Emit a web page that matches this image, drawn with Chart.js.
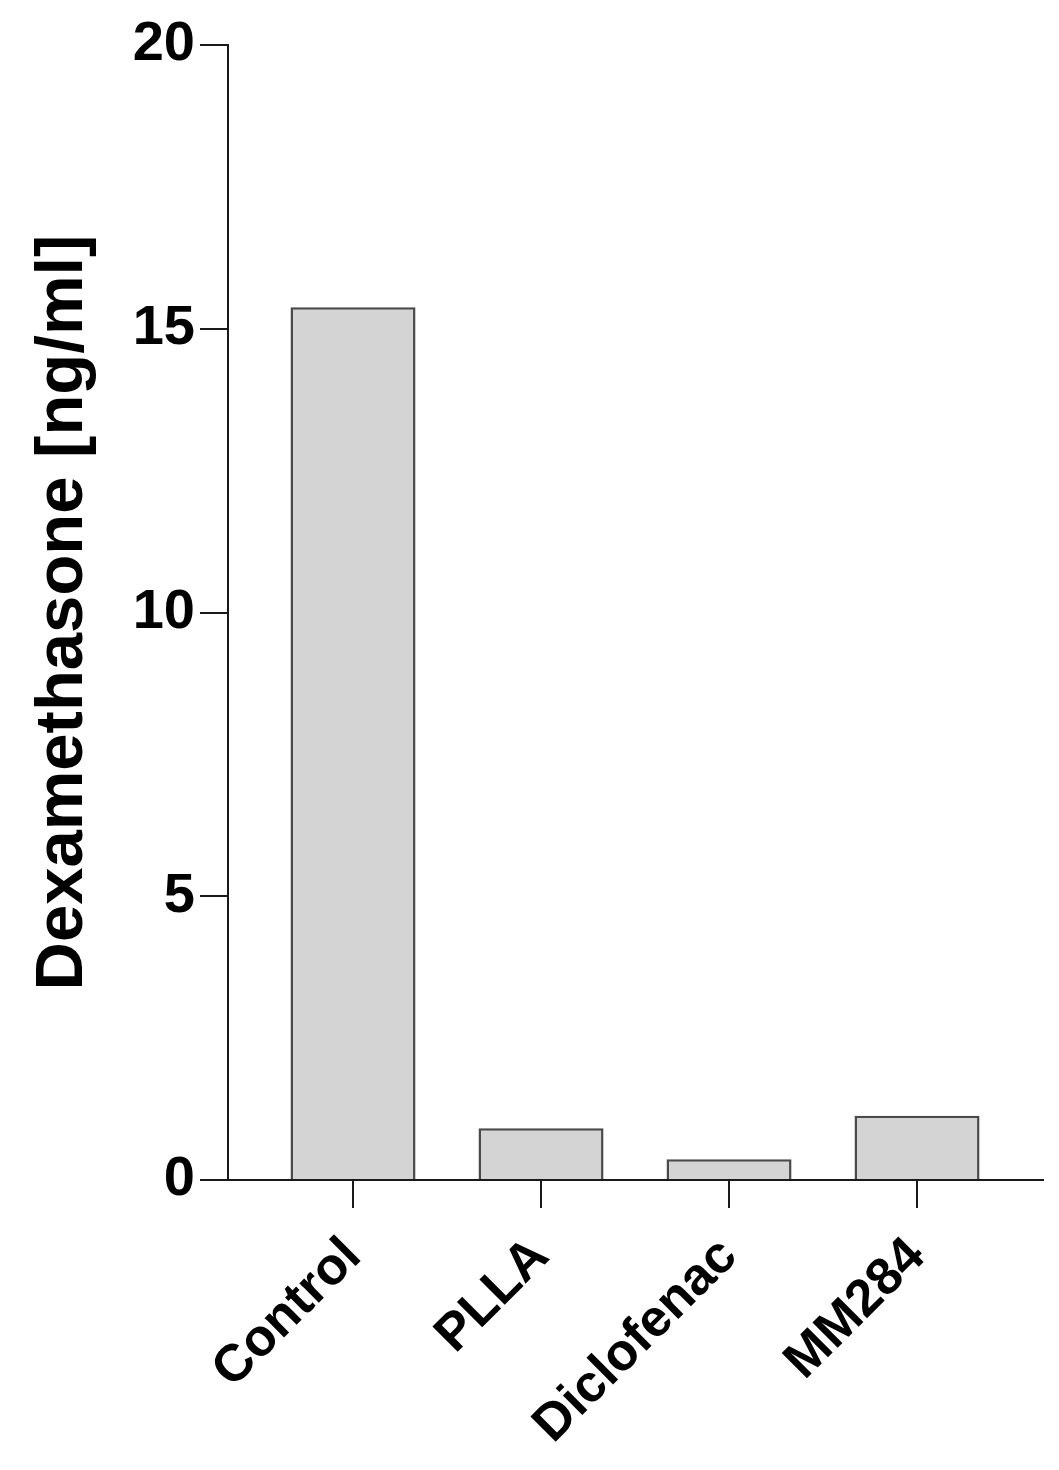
<!DOCTYPE html>
<html>
<head>
<meta charset="utf-8">
<script src="https://cdn.jsdelivr.net/npm/chart.js@4.4.1/dist/chart.umd.min.js"></script>
<style>
  body { margin: 0; background: #fff; }
</style>
</head>
<body>
<canvas id="myChart" width="1059" height="1470"></canvas>
<script>
// groups and measured dexamethasone values
const categories = ["Control", "PLLA", "Diclofenac", "MM284"];
const dexValues = [15.38, 0.91, 0.365, 1.13];
const yTicks = [0, 5, 10, 15, 20];

const fontFamily = "'Liberation Sans', Arial, Helvetica, sans-serif";

//Build the points on a linear x scale so the axis can run past the outer bars
let points = dexValues.map(function(v, i) {
    return { x: i, y: v };
});

var ctx = document.getElementById("myChart");
var myChart = new Chart(ctx, {
    type: 'bar',
    data: {
        datasets: [
            {
                label: "Dexamethasone",
                data: points,
                backgroundColor: "#d4d4d4",
                borderColor: "#4a4a4a",
                borderWidth: 2.5,
                borderSkipped: 'bottom',
                barPercentage: 0.665,
                categoryPercentage: 1
            }
        ]
    },
    options: {
        responsive: false,
        animation: false,
        layout: { padding: { left: 30, right: 16, top: 45, bottom: 0 } },
        plugins: {
            legend: { display: false },
            tooltip: { enabled: false }
        },
        scales: {
            x: {
                type: 'linear',
                offset: false,
                min: -0.665,
                max: 3.67,
                afterBuildTicks: function(scale) {
                    scale.ticks = categories.map(function(c, i) { return { value: i }; });
                },
                afterFit: function(scale) { scale.height = 290; },
                grid: {
                    offset: false,
                    drawOnChartArea: false,
                    drawTicks: true,
                    tickLength: 28,
                    color: "#1a1a1a",
                    lineWidth: 2
                },
                border: { color: "#1a1a1a", width: 2 },
                ticks: {
                    autoSkip: false,
                    maxRotation: 45,
                    minRotation: 45,
                    padding: 18,
                    color: "#000",
                    font: { family: fontFamily, size: 52, weight: 'bold' },
                    callback: function(value) { return categories[value]; }
                }
            },
            y: {
                min: 0,
                max: 20,
                afterBuildTicks: function(scale) {
                    scale.ticks = yTicks.map(function(v) { return { value: v }; });
                },
                afterFit: function(scale) { scale.width = 198; },
                grid: {
                    drawOnChartArea: false,
                    drawTicks: true,
                    tickLength: 28,
                    color: "#1a1a1a",
                    lineWidth: 2
                },
                border: { color: "#1a1a1a", width: 2 },
                ticks: {
                    padding: 5,
                    color: "#000",
                    font: { family: fontFamily, size: 56, weight: 'bold' }
                },
                title: {
                    display: true,
                    text: "Dexamethasone [ng/ml]",
                    color: "#000",
                    padding: { top: 0, bottom: 0 },
                    font: { family: fontFamily, size: 67, weight: 'bold', lineHeight: 1 }
                }
            }
        }
    }
});
</script>
</body>
</html>
